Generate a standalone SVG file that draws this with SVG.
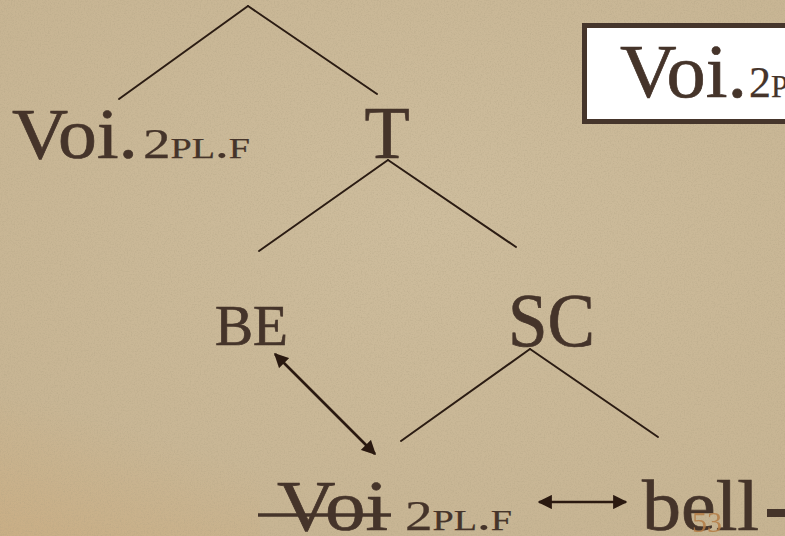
<svg xmlns="http://www.w3.org/2000/svg" width="785" height="536" viewBox="0 0 785 536">
<defs>
<style>
.t{font-family:"Liberation Serif","Times New Roman",serif;fill:#45342a;stroke:#45342a;stroke-width:0.7}
.sc{font-variant:small-caps;stroke-width:0.25}
.br{stroke:#2b1c13;stroke-width:2;fill:none;stroke-linecap:round}
.ar{stroke:#2a1910;stroke-width:2.6;fill:none}
</style>
<marker id="ah" viewBox="0 0 10 10" refX="9" refY="5" markerWidth="5.5" markerHeight="5.5" orient="auto-start-reverse" markerUnits="strokeWidth">
<path d="M0,0 L10,5 L0,10 Z" fill="#2a1910"/>
</marker>
<filter id="grain" x="0" y="0" width="100%" height="100%">
<feTurbulence type="fractalNoise" baseFrequency="0.7" numOctaves="3" seed="4" result="n"/>
<feColorMatrix type="matrix" values="0 0 0 0 0.42  0 0 0 0 0.35  0 0 0 0 0.22  0 0 0 -2.2 1.25"/>
</filter>
<radialGradient id="bgg" cx="0.55" cy="0.4" r="0.8">
<stop offset="0" stop-color="#cebd9d"/>
<stop offset="1" stop-color="#c6b391"/>
</radialGradient>
<linearGradient id="corner" x1="0" y1="1" x2="0.5" y2="0.2">
<stop offset="0" stop-color="#d0a670" stop-opacity="0.35"/>
<stop offset="1" stop-color="#d0a670" stop-opacity="0"/>
</linearGradient>
</defs>
<g id="background">
<rect width="785" height="536" fill="url(#bgg)"/>
<rect x="0" y="400" width="260" height="136" fill="url(#corner)"/>
<rect width="785" height="536" opacity="0.35" filter="url(#grain)"/>
</g>
<g id="connectors">
<line class="br" x1="248" y1="6" x2="119" y2="99"/>
<line class="br" x1="248" y1="6" x2="377" y2="94"/>
<line class="br" x1="388" y1="160" x2="259" y2="251"/>
<line class="br" x1="388" y1="160" x2="516" y2="247"/>
<line class="br" x1="530" y1="349" x2="401" y2="441"/>
<line class="br" x1="530" y1="349" x2="658" y2="437"/>
<line class="ar" x1="275" y1="354" x2="375" y2="454" marker-start="url(#ah)" marker-end="url(#ah)"/>
<line class="ar" x1="539" y1="502" x2="626" y2="502" marker-start="url(#ah)" marker-end="url(#ah)"/>
</g>
<g id="node-voi-top">
<text class="t" x="12" y="158" font-size="72" textLength="126" lengthAdjust="spacingAndGlyphs">Voi.</text>
<text class="t sc" x="143" y="158" font-size="42" textLength="107" lengthAdjust="spacingAndGlyphs">2pl.f</text>
</g>
<g id="node-T">
<text class="t" x="387" y="158" font-size="74" text-anchor="middle">T</text>
</g>
<g id="node-BE">
<text class="t" x="215" y="345" font-size="57" textLength="73" lengthAdjust="spacingAndGlyphs">BE</text>
</g>
<g id="node-SC">
<text class="t" x="508" y="346" font-size="76" textLength="87" lengthAdjust="spacingAndGlyphs" stroke-width="1.4">SC</text>
</g>
<g id="node-voi-trace">
<text class="t" x="277" y="530" font-size="72" textLength="111" lengthAdjust="spacingAndGlyphs">Voi</text>
<line x1="258" y1="515" x2="391" y2="515" stroke="#45342a" stroke-width="3.5"/>
<text class="t sc" x="405" y="530" font-size="42" textLength="107" lengthAdjust="spacingAndGlyphs">2pl.f</text>
</g>
<g id="node-bell">
<text class="t" x="642" y="530" font-size="72" textLength="117" lengthAdjust="spacingAndGlyphs">bell</text>
<rect x="767" y="509" width="30" height="8" fill="#45342a"/>
</g>
<g id="node-box">
<rect x="584.5" y="25.5" width="220" height="96" fill="#ffffff" stroke="#45352b" stroke-width="5"/>
<text class="t" x="620" y="97" font-size="76" textLength="127" lengthAdjust="spacingAndGlyphs">Voi.</text>
<text class="t sc" x="749" y="97" font-size="44">2pl.f</text>
</g>
<g id="page-number">
<text x="692" y="532" font-family="Liberation Serif, serif" font-size="30" fill="#b47c45" opacity="0.85">53</text>
</g>
</svg>
